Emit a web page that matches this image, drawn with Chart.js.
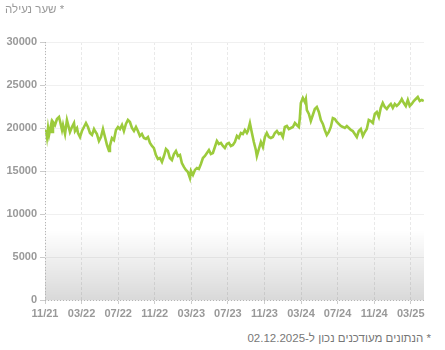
<!DOCTYPE html>
<html lang="he">
<head>
  <meta charset="UTF-8" />
  <title>שער נעילה</title>
  <script src="https://cdn.jsdelivr.net/npm/chart.js"></script>
  <style>
    body, html {
      margin: 0;
      padding: 0;
      background: #fff;
    }
    #wrap {
      position: relative;
      width: 445px;
      height: 350px;
      font-family: "Liberation Sans", Arial, sans-serif;
    }
    #title {
      position: absolute;
      left: 5px;
      top: 3px;
      direction: rtl;
      font-size: 11.5px;
      color: #999;
    }
    #note {
      position: absolute;
      right: 14px;
      top: 332px;
      direction: rtl;
      font-size: 11.5px;
      color: #777;
    }
    canvas {
      position: absolute;
      left: 0;
      top: 0;
    }
  </style>
</head>
<body>
  <div id="wrap">
    <canvas id="priceChart" width="445" height="325"></canvas>
    <div id="title">* שער נעילה</div>
    <div id="note">* הנתונים מעודכנים נכון ל-02.12.2025</div>
  </div>

  <script>
    // months since 11/21
    const months = [
      0.11, 0.22, 0.33, 0.44, 0.66, 0.77, 0.87, 1.09, 1.31, 1.53, 1.64, 1.86, 1.97, 2.19, 2.40, 2.51,
      2.73, 2.95, 3.17, 3.28, 3.50, 3.61, 3.83, 4.04, 4.26, 4.48, 4.70, 4.92, 5.14, 5.36, 5.47, 5.68,
      5.90, 6.12, 6.34, 6.56, 6.78, 7.00, 7.10, 7.32, 7.54, 7.76, 7.98, 8.20, 8.42, 8.63, 8.85, 9.07,
      9.29, 9.51, 9.73, 9.95, 10.16, 10.38, 10.60, 10.82, 11.04, 11.26, 11.48, 11.70, 11.91, 12.13, 12.35, 12.57,
      12.79, 13.01, 13.23, 13.44, 13.66, 13.88, 14.10, 14.32, 14.54, 14.76, 14.97, 15.19, 15.41, 15.63, 15.85, 15.96,
      16.18, 16.40, 16.61, 16.83, 17.05, 17.27, 17.49, 17.71, 17.93, 18.14, 18.36, 18.58, 18.80, 19.02, 19.24, 19.46,
      19.67, 19.89, 20.11, 20.33, 20.55, 20.77, 20.99, 21.20, 21.42, 21.64, 21.86, 22.08, 22.19, 22.41, 22.63, 22.84,
      23.06, 23.17, 23.39, 23.61, 23.83, 24.05, 24.26, 24.48, 24.70, 24.92, 25.14, 25.36, 25.58, 25.79, 26.01, 26.23,
      26.45, 26.67, 26.89, 27.11, 27.33, 27.54, 27.76, 27.87, 27.98, 28.20, 28.42, 28.53, 28.64, 28.86, 29.07, 29.29,
      29.51, 29.73, 29.95, 30.17, 30.39, 30.60, 30.82, 31.04, 31.26, 31.48, 31.70, 31.92, 32.13, 32.35, 32.57, 32.79,
      33.01, 33.23, 33.45, 33.66, 33.88, 34.10, 34.32, 34.54, 34.76, 34.98, 35.19, 35.41, 35.63, 35.85, 36.07, 36.29,
      36.51, 36.72, 36.94, 37.16, 37.38, 37.60, 37.82, 38.04, 38.26, 38.47, 38.69, 38.91, 39.02, 39.24, 39.46, 39.68,
      39.89, 40.11, 40.33, 40.55, 40.77, 40.99, 41.21, 41.42
    ];

    const closing = [
      19770, 18950, 20000, 19190, 20350, 19540, 20700, 20350, 21050, 21280, 20810, 19770, 20350, 19300, 20930, 20470,
      19540, 20120, 20580, 19650, 20000, 19420, 18950, 19650, 20120, 20580, 20120, 19420, 19190, 19880, 19650, 19300,
      18490, 18950, 19880, 18950, 18020, 17330, 17910, 18840, 18600, 19770, 20120, 19880, 20350, 19650, 20470, 20930,
      20700, 20000, 19650, 20120, 19650, 19070, 19300, 18840, 18720, 18950, 18260, 17910, 17670, 16860, 16400, 16510,
      16050, 16740, 17560, 17330, 16510, 16280, 16980, 17330, 16740, 16860, 15930, 15470, 15120, 14880, 14190, 15000,
      14540, 15120, 15350, 15230, 15810, 16510, 16740, 17090, 17440, 16980, 17090, 17790, 18490, 18140, 18260, 17910,
      17670, 18140, 18260, 17910, 18020, 18370, 19070, 18840, 19420, 19300, 19770, 19420, 19650, 20580, 19420, 18370,
      17440, 16740, 17560, 18370, 17790, 18950, 19420, 18950, 18840, 18950, 19420, 19650, 19300, 19420, 18950, 20120,
      20230, 19880, 20000, 20120, 20580, 20350, 20120, 21160, 22910, 23490, 23020, 23370, 22090, 21630, 20810, 21510,
      22210, 22440, 21860, 20930, 20470, 19770, 19190, 19540, 20120, 21160, 21050, 20700, 20470, 20230, 20120, 20000,
      20230, 20000, 19770, 19650, 19300, 18950, 19650, 19880, 19070, 19540, 19880, 20930, 20810, 20580, 21630, 21860,
      21280, 22330, 22910, 22440, 22210, 22560, 22790, 22330, 22790, 22560, 22790, 23140, 23370, 22910, 22560, 23260,
      22560, 22790, 23140, 23370, 23600, 23140, 23260, 23140
    ];

    const tickLabels = ['11/21', '03/22', '07/22', '11/22', '03/23', '07/23', '11/23', '03/24', '07/24', '11/24', '03/25'];
    const yTicks = [0, 5000, 10000, 15000, 20000, 25000, 30000];

    const points = months.map((m, i) => ({ x: m, y: closing[i] }));

    // grey fade at the bottom of the plot + dotted axis lines
    const plotDecor = {
      id: 'plotDecor',
      beforeDatasetsDraw(chart) {
        const { ctx, chartArea: a } = chart;
        const h = 70;
        const g = ctx.createLinearGradient(0, a.bottom - h, 0, a.bottom);
        g.addColorStop(0, 'rgba(0,0,0,0)');
        g.addColorStop(1, 'rgba(0,0,0,0.15)');
        ctx.save();
        ctx.fillStyle = g;
        ctx.fillRect(a.left, a.bottom - h, a.right - a.left, h);
        ctx.restore();
      },
      afterDraw(chart) {
        const { ctx, chartArea: a } = chart;
        ctx.save();
        ctx.strokeStyle = '#b5b5b5';
        ctx.lineWidth = 1;
        ctx.setLineDash([1, 2]);
        ctx.beginPath();
        ctx.moveTo(a.left, a.bottom + 0.5);
        ctx.lineTo(a.right, a.bottom + 0.5);
        ctx.moveTo(a.left + 0.5, a.top);
        ctx.lineTo(a.left + 0.5, a.bottom);
        ctx.stroke();
        ctx.restore();
      }
    };

    const ctx = document.getElementById('priceChart').getContext('2d');
    new Chart(ctx, {
      type: 'line',
      data: {
        datasets: [{
          data: points,
          borderColor: '#9ccb3c',
          borderWidth: 2.6,
          pointRadius: 0,
          fill: false,
          tension: 0
        }]
      },
      options: {
        responsive: false,
        animation: false,
        layout: { padding: { top: 42, right: 21, left: 0, bottom: 0 } },
        plugins: {
          legend: { display: false },
          tooltip: { enabled: false }
        },
        scales: {
          x: {
            type: 'linear',
            min: 0,
            max: 41.45,
            afterFit: s => { s.height = 25; },
            afterBuildTicks: s => { s.ticks = tickLabels.map((_, i) => ({ value: i * 4 })); },
            ticks: {
              autoSkip: false,
              maxRotation: 0,
              padding: 3,
              color: '#999',
              font: { family: 'Liberation Sans', size: 11, weight: 'bold' },
              callback: v => tickLabels[Math.round(v / 4)] ?? ''
            },
            grid: { color: '#e9e9e9', lineWidth: 1, tickLength: 4, tickColor: '#ccc' },
            border: { display: false, dash: [3, 2] }
          },
          y: {
            min: 0,
            max: 30000,
            afterFit: s => { s.width = 45; },
            afterBuildTicks: s => { s.ticks = yTicks.map(v => ({ value: v })); },
            ticks: {
              padding: 3,
              color: '#999',
              font: { family: 'Liberation Sans', size: 11, weight: 'bold' },
              callback: v => String(v)
            },
            grid: { color: '#f0f0f0', lineWidth: 1, tickLength: 5, tickColor: '#ccc' },
            border: { display: false }
          }
        }
      },
      plugins: [plotDecor]
    });
  </script>
</body>
</html>
